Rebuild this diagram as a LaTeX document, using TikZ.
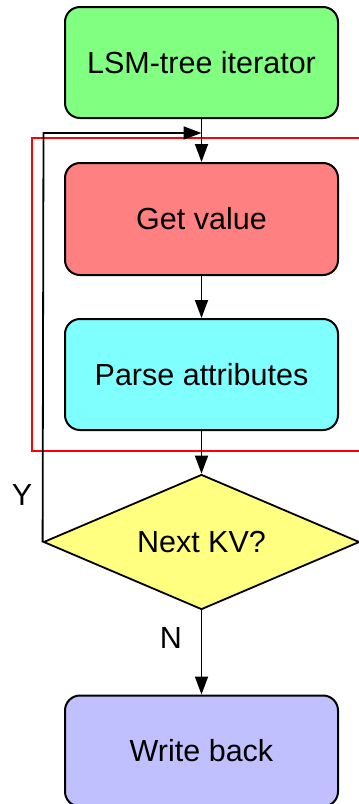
\documentclass[tikz,border=0pt]{standalone}
\usepackage{fontspec}
\setmainfont{Liberation Sans}
\usetikzlibrary{shapes.geometric,arrows.meta}

\definecolor{boxgreen}{HTML}{80FF80}
\definecolor{boxred}{HTML}{FF8080}
\definecolor{boxcyan}{HTML}{80FFFF}
\definecolor{boxyellow}{HTML}{FFFF80}
\definecolor{boxblue}{HTML}{C0C0FF}

\tikzset{
  stepbox/.style={draw=black, line width=2pt, rounded corners=15pt,
    minimum width=273pt, minimum height=111pt, inner sep=0pt,
    font=\fontsize{30.5}{36}\selectfont},
  decision/.style={draw=black, line width=1.8pt, diamond, fill=boxyellow,
    shape aspect=2.34, minimum width=316pt, minimum height=135pt, inner sep=0pt,
    font=\fontsize{30.5}{36}\selectfont},
  flow/.style={draw=black, line width=1.8pt,
    -{Triangle[length=18pt,width=13pt]}},
  branch/.style={font=\fontsize{30.5}{36}\selectfont},
}

\begin{document}
\begin{tikzpicture}[x=1pt,y=-1pt]
  \useasboundingbox (0,0) rectangle (359,804);
  \clip (0,0) rectangle (359,804);

  % processing steps
  \node[stepbox, fill=boxgreen] (iter) at (201.5,62.5) {LSM-tree iterator};
  \node[stepbox, fill=boxred, minimum height=112pt] (get) at (201.5,219) {Get value};
  \node[stepbox, fill=boxcyan] (parse) at (201.5,374.5) {Parse attributes};
  \node[decision] (next) at (201.5,542) {Next KV?};
  \node[stepbox, fill=boxblue] (write) at (201.5,751) {Write back};

  % loop-back point above the first step
  \coordinate (merge) at (201.5,133);
  \coordinate (loopcorner) at (43.5,133);

  % per-record stage frame
  \draw[red, line width=2pt] (380,138) -- (32,138) -- (32,451) -- (380,451);

  % connectors
  \draw[flow] (iter.south) -- (get.north);
  \draw[flow] (get.south) -- (parse.north);
  \draw[flow] (parse.south) -- (next.north);
  \draw[flow] (next.south) -- (write.north);
  \draw[flow] (next.west) -- (loopcorner) -- (merge);

  % branch labels
  \node[branch] (ylab) at (22,495) {Y};
  \node[branch] (nlab) at (171,638) {N};
\end{tikzpicture}
\end{document}
